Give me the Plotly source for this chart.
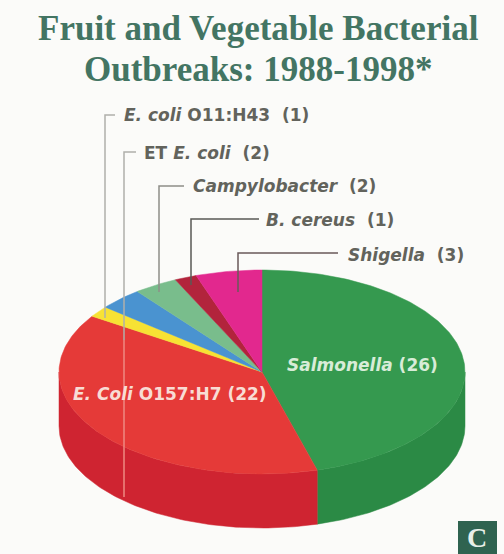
import math
import plotly.graph_objects as go

title_lines = ["Fruit and Vegetable Bacterial", "Outbreaks: 1988-1998*"]
# clockwise from 12 o'clock
categories = ["Salmonella", "E. coli O157:H7", "E. coli O11:H43", "ET E. coli",
              "Campylobacter", "B. cereus", "Shigella"]
values = [26, 22, 1, 2, 2, 1, 3]
top_colors = ["#35994f", "#e53a38", "#f7e234", "#4a93d0", "#79bd8c", "#b2243c", "#e2288e"]
side_colors = ["#2b8a45", "#cf2431", "#d8c020", "#3a78ad", "#5fa070", "#8e1c30", "#b81f74"]

CX, CY, RX, RY, DEPTH = 262, 372, 203, 102, 54


def pt(deg, dy=0):
    a = math.radians(deg)
    return CX + RX * math.sin(a), CY - RY * math.cos(a) + dy


fig = go.Figure()
total = sum(values)
edges = [0]
for v in values:
    edges.append(edges[-1] + v / total * 360)

# side walls (only the front half, 90..270 degrees, is visible)
for i, v in enumerate(values):
    a0, a1 = max(edges[i], 90), min(edges[i + 1], 270)
    if a1 <= a0:
        continue
    n = max(int(a1 - a0), 2)
    arc = [a0 + (a1 - a0) * k / n for k in range(n + 1)]
    up = [pt(a) for a in arc]
    down = [pt(a, DEPTH) for a in reversed(arc)]
    pts = up + down + [up[0]]
    fig.add_trace(go.Scatter(x=[p[0] for p in pts], y=[p[1] for p in pts], mode="lines",
                             fill="toself", fillcolor=side_colors[i],
                             line=dict(color=side_colors[i], width=0.5), hoverinfo="skip"))

# top faces
for i, v in enumerate(values):
    a0, a1 = edges[i], edges[i + 1]
    n = max(int(a1 - a0), 2)
    pts = [(CX, CY)] + [pt(a0 + (a1 - a0) * k / n) for k in range(n + 1)] + [(CX, CY)]
    fig.add_trace(go.Scatter(x=[p[0] for p in pts], y=[p[1] for p in pts], mode="lines",
                             fill="toself", fillcolor=top_colors[i],
                             line=dict(color=top_colors[i], width=0.5),
                             name=categories[i], hoverinfo="name"))

# leader lines
leaders = [
    ([115, 105, 105], [115, 115, 318], "#b0b0aa"),
    ([136, 124, 124], [152, 152, 340], "#b0b0aa"),
    ([184, 159, 159], [186, 186, 292], "#8e8e88"),
    ([259, 191, 191], [219, 219, 285], "#5a5a55"),
    ([338, 238, 238], [253, 253, 292], "#6a5a5a"),
    ([124, 124], [340, 497], "#ee8a82"),
]
for lx, ly, c in leaders:
    fig.add_trace(go.Scatter(x=lx, y=ly, mode="lines", line=dict(color=c, width=1.5), hoverinfo="skip"))

fig.update_xaxes(range=[0, 504], visible=False, fixedrange=True)
fig.update_yaxes(range=[554, 0], visible=False, fixedrange=True)

DARK = "#62635c"
SERIF = "Liberation Serif"
SANS = "DejaVu Sans"
NB = "\u00a0\u00a0"
texts = [
    (title_lines[0], 258, 28, 35, "#437563", SERIF),
    (title_lines[1], 258, 69, 35, "#437563", SERIF),
    (f"<i>E. coli</i> O11:H43{NB}(1)", 216, 115, 17, DARK, SANS),
    (f"ET <i>E. coli</i>{NB}(2)", 207, 153, 17, DARK, SANS),
    (f"<i>Campylobacter</i>{NB}(2)", 284, 186, 17, DARK, SANS),
    (f"<i>B. cereus</i>{NB}(1)", 330, 220, 17, DARK, SANS),
    (f"<i>Shigella</i>{NB}(3)", 406, 255, 17, DARK, SANS),
    ("<i>Salmonella</i> (26)", 362, 365, 17, "#d8ecd8", SANS),
    ("<i>E. Coli</i> O157:H7 (22)", 170, 394, 17, "#f8dcd4", SANS),
]
annotations = [
    dict(x=x, y=y, text=f"<b>{t}</b>", showarrow=False, xanchor="center", yanchor="middle",
         font=dict(size=s, color=c, family=fam))
    for t, x, y, s, c, fam in texts
]
annotations.append(dict(x=477, y=537, text="<b>C</b>", showarrow=False, xanchor="center", yanchor="middle",
                        font=dict(size=28, color="#e8efe8", family=SERIF)))

fig.update_layout(
    width=504, height=554, margin=dict(l=0, r=0, t=0, b=0), showlegend=False,
    paper_bgcolor="#fbfbf9", plot_bgcolor="#fbfbf9", annotations=annotations,
    shapes=[dict(type="rect", x0=458, x1=497, y0=521, y1=554, fillcolor="#2f6350", line_width=0, layer="below")],
)
fig.write_html("out.html", config=dict(displayModeBar=False),
               post_script="document.body.style.margin='0';document.body.style.overflow='hidden';document.body.style.background='#fbfbf9';")
